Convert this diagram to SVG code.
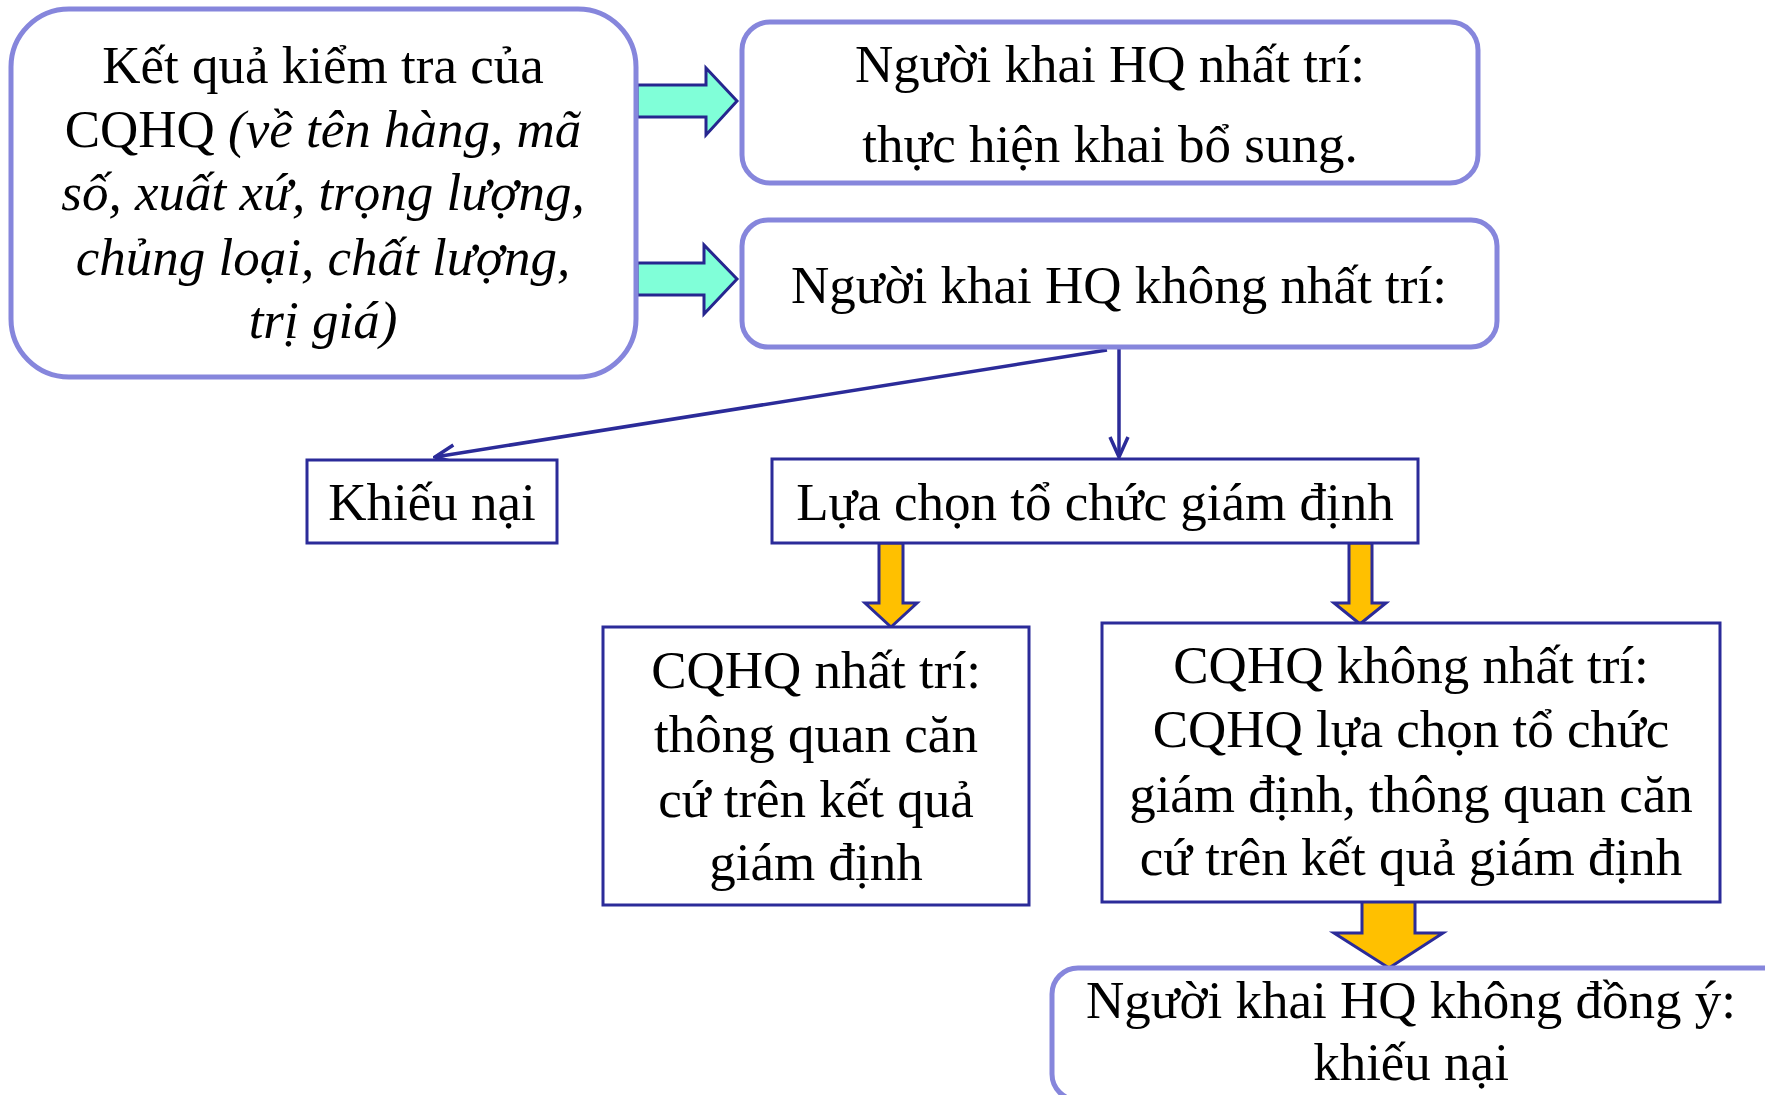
<svg xmlns="http://www.w3.org/2000/svg" width="1765" height="1095" viewBox="0 0 1765 1095">
<style>
.rb{fill:#fff;stroke:#8686DC;stroke-width:5}
.sb{fill:#fff;stroke:#2B2B99;stroke-width:3}
.t{font-family:"Liberation Serif","Times New Roman",serif;font-size:53px;fill:#000;text-anchor:middle}
.i{font-style:italic}
.cy{fill:#80FFD8;stroke:#26268F;stroke-width:3;stroke-linejoin:miter}
.ye{fill:#FFC000;stroke:#2B2B99;stroke-width:3;stroke-linejoin:miter}
.ln{fill:none;stroke:#2B2B99;stroke-width:3.5}
</style>
<defs>
<marker id="ah" viewBox="0 0 24 24" refX="22" refY="12" markerWidth="24" markerHeight="24" markerUnits="userSpaceOnUse" orient="auto">
<path d="M2,3 L22,12 L2,21" fill="none" stroke="#2B2B99" stroke-width="3.5"/>
</marker>
</defs>
<rect width="1765" height="1095" fill="#fff"/>
<g id="connectors">
<polygon class="cy" points="637,85 706,85 706,68 737,101 706,135 706,117 637,117"/>
<polygon class="cy" points="637,263 704,263 704,245 737,279 704,314 704,295 637,295"/>
<line class="ln" x1="1107" y1="350" x2="435" y2="457" marker-end="url(#ah)"/>
<line class="ln" x1="1119" y1="348" x2="1119" y2="457" stroke-width="3" marker-end="url(#ah)"/>
<polygon class="ye" points="879,543 903,543 903,603 917,603 891,627 865,603 879,603"/>
<polygon class="ye" points="1349,543 1372,543 1372,603 1386,603 1360,624 1334,603 1349,603"/>
<polygon class="ye" points="1362,898 1415,898 1415,933 1443,933 1389,968 1334,933 1362,933"/>
</g>
<g id="n1">
<rect class="rb" x="11" y="9" width="625" height="368" rx="58" ry="58"/>
<text class="t" x="323" y="83">Kết quả kiểm tra của</text>
<text class="t" x="323" y="147">CQHQ <tspan class="i">(về tên hàng, mã</tspan></text>
<text class="t i" x="323" y="210">số, xuất xứ, trọng lượng,</text>
<text class="t i" x="323" y="275">chủng loại, chất lượng,</text>
<text class="t i" x="323" y="338">trị giá)</text>
</g>
<g id="n2">
<rect class="rb" x="742" y="22" width="736" height="161" rx="28" ry="28"/>
<text class="t" x="1110" y="82">Người khai HQ nhất trí:</text>
<text class="t" x="1110" y="162">thực hiện khai bổ sung.</text>
</g>
<g id="n3">
<rect class="rb" x="742" y="220" width="755" height="127" rx="26" ry="26"/>
<text class="t" x="1119" y="303">Người khai HQ không nhất trí:</text>
</g>
<g id="n4">
<rect class="sb" x="307" y="460" width="250" height="83"/>
<text class="t" x="432" y="520">Khiếu nại</text>
</g>
<g id="n5">
<rect class="sb" x="772" y="459" width="646" height="84"/>
<text class="t" x="1095" y="520">Lựa chọn tổ chức giám định</text>
</g>
<g id="n6">
<rect class="sb" x="603" y="627" width="426" height="278"/>
<text class="t" x="816" y="688">CQHQ nhất trí:</text>
<text class="t" x="816" y="752">thông quan căn</text>
<text class="t" x="816" y="817">cứ trên kết quả</text>
<text class="t" x="816" y="880">giám định</text>
</g>
<g id="n7">
<rect class="sb" x="1102" y="623" width="618" height="279"/>
<text class="t" x="1411" y="683">CQHQ không nhất trí:</text>
<text class="t" x="1411" y="747">CQHQ lựa chọn tổ chức</text>
<text class="t" x="1411" y="812">giám định, thông quan căn</text>
<text class="t" x="1411" y="875">cứ trên kết quả giám định</text>
</g>
<g id="n8">
<rect class="rb" x="1052" y="968" width="740" height="132" rx="26" ry="26"/>
<text class="t" x="1411" y="1018">Người khai HQ không đồng ý:</text>
<text class="t" x="1411" y="1080">khiếu nại</text>
</g>
</svg>
